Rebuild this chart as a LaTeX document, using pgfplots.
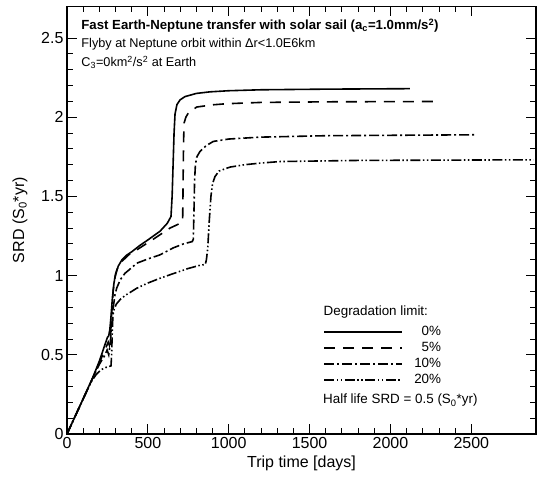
\documentclass[border=0pt]{standalone}
\usepackage{fontspec}
\setmainfont{Liberation Sans}
\usepackage{pgfplots}
\pgfplotsset{compat=1.18}
\begin{document}
\begin{tikzpicture}
\begin{axis}[
  scale only axis, width=469pt, height=427.7pt,
  xmin=0, xmax=2900, ymin=0, ymax=2.7,
  xtick={0,500,1000,1500,2000,2500},
  ytick={0,0.5,1,1.5,2,2.5},
  minor x tick num=4, minor y tick num=4,
  tick align=inside, major tick length=10pt, minor tick length=6pt,
  every tick/.style={black, line width=0.9pt},
  axis line style={line width=1.2pt},
  /pgf/number format/assume math mode=true,
  /pgf/number format/set thousands separator={},
  tick label style={font=\fontsize{16}{19}\selectfont},
  label style={font=\fontsize{16}{19}\selectfont},
  xlabel={Trip time [days]},
  ylabel={SRD (S\textsubscript{0}*yr)},
  ylabel shift=7pt,
  legend cell align=right,
  legend image code/.code={\draw[#1] (0pt,0pt) -- (78pt,0pt); \path (89pt,0pt);},
  legend style={draw=none, fill=none, at={(axis cs:1586,0.685)}, anchor=north west,
    inner sep=0pt, row sep=3pt, font=\fontsize{13.4}{16}\selectfont,
    nodes={inner sep=0pt, text height=10pt, text depth=3pt}},
  every axis plot/.append style={line width=1.6pt, black},
]
\addplot[solid] coordinates {(0,0) (100,0.222) (160,0.358) (200,0.46) (230,0.55) (250,0.61) (258,0.62) (265,0.66) (272,0.74) (280,0.85) (290,0.95) (300,1.01) (317,1.06) (340,1.10) (370,1.13) (400,1.15) (450,1.19) (500,1.225) (575,1.28) (620,1.33) (643,1.373) (650,1.50) (656,1.70) (662,1.90) (668,2.02) (680,2.08) (700,2.11) (730,2.13) (800,2.15) (884,2.16) (1000,2.167) (1200,2.173) (1600,2.177) (2120,2.18)};
\addlegendentry{\phantom{1}0\%}
\addplot[dash pattern=on 11pt off 8pt] coordinates {(0,0) (100,0.222) (160,0.356) (200,0.45) (230,0.52) (255,0.58) (262,0.56) (268,0.60) (276,0.75) (285,0.90) (295,0.98) (310,1.04) (340,1.09) (380,1.13) (431,1.162) (534,1.23) (637,1.30) (700,1.33) (715,1.341) (717,1.50) (719,1.70) (721,1.85) (724,1.963) (735,2.00) (750,2.026) (802,2.064) (900,2.078) (988,2.085) (1194,2.093) (1600,2.097) (2307,2.099)};
\addlegendentry{\phantom{1}5\%}
\addplot[dash pattern=on 10pt off 3pt on 2pt off 3pt] coordinates {(0,0) (100,0.222) (160,0.355) (200,0.44) (230,0.49) (248,0.53) (258,0.50) (266,0.56) (276,0.68) (286,0.80) (297,0.88) (307,0.92) (330,0.975) (359,1.015) (400,1.05) (431,1.078) (500,1.105) (575,1.131) (657,1.175) (720,1.20) (775,1.215) (781,1.23) (785,1.40) (789,1.60) (794,1.70) (803,1.75) (822,1.783) (860,1.82) (905,1.847) (1000,1.862) (1194,1.874) (1600,1.883) (2533,1.889)};
\addlegendentry{10\%}
\addplot[dash pattern=on 10pt off 2.5pt on 1.5pt off 2.5pt on 1.5pt off 2.5pt] coordinates {(0,0) (100,0.222) (150,0.33) (180,0.375) (210,0.405) (240,0.42) (272,0.43) (276,0.50) (280,0.65) (284,0.75) (292,0.79) (305,0.82) (330,0.85) (360,0.875) (400,0.90) (431,0.92) (500,0.953) (575,0.983) (650,1.01) (750,1.045) (822,1.065) (855,1.07) (862,1.10) (870,1.17) (880,1.35) (890,1.50) (900,1.58) (915,1.625) (940,1.66) (1008,1.685) (1100,1.70) (1194,1.71) (1317,1.72) (1800,1.727) (2884,1.731)};
\addlegendentry{20\%}
\node[anchor=base west, inner sep=0pt, font=\bfseries\fontsize{13.2}{16}\selectfont] at (axis cs:88,2.552) {Fast Earth-Neptune transfer with solar sail (a\textsubscript{c}=1.0mm/s\textsuperscript{2})};
\node[anchor=base west, inner sep=0pt, font=\fontsize{12.7}{15}\selectfont] at (axis cs:88,2.44) {Flyby at Neptune orbit within Δr<1.0E6km};
\node[anchor=base west, inner sep=0pt, font=\fontsize{12.7}{15}\selectfont] at (axis cs:88,2.32) {C\textsubscript{3}=0km\textsuperscript{2}/s\textsuperscript{2} at Earth};
\node[anchor=base west, inner sep=0pt, font=\fontsize{13.4}{16}\selectfont] at (axis cs:1586,0.747) {Degradation limit:};
\node[anchor=base west, inner sep=0pt, font=\fontsize{13.4}{16}\selectfont] at (axis cs:1583,0.19) {Half life SRD = 0.5 (S\textsubscript{0}*yr)};
\end{axis}
\pgfresetboundingbox
\path ([shift={(-67pt,-50pt)}]current axis.south west) rectangle ([shift={(2pt,6.3pt)}]current axis.north east);
\end{tikzpicture}
\end{document}
